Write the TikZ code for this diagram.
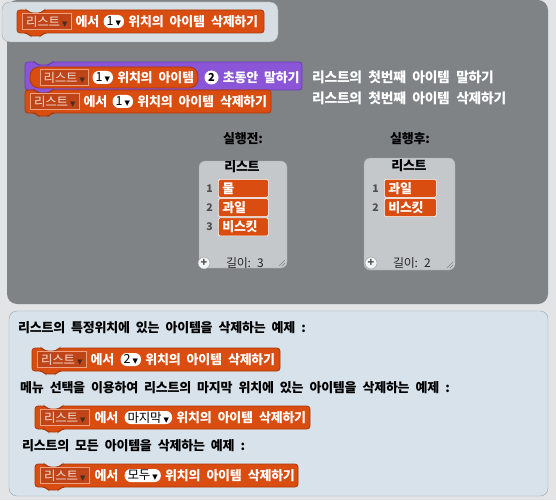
\documentclass[tikz,border=0pt]{standalone}
\usepackage{fontspec}
\usepackage{xcolor}
\usepackage{tikz}
\usetikzlibrary{positioning}

\newfontfamily\krfont{Noto Sans CJK KR}[LetterSpace=-2,WordSpace=2.2]
\newfontfamily\symfont{DejaVu Sans}

\definecolor{pagebg}{HTML}{E3E4E5}
\definecolor{stagegray}{HTML}{7F8386}
\definecolor{headfill}{HTML}{D6DEE4}
\definecolor{headedge}{HTML}{A3ACB3}
\definecolor{notefill}{HTML}{D7E2EA}
\definecolor{noteedge}{HTML}{9AA5AD}
\definecolor{listorange}{HTML}{D94D11}
\definecolor{listedge}{HTML}{A93A0B}
\definecolor{fieldfill}{HTML}{BF4519}
\definecolor{fieldedge}{HTML}{EFA07E}
\definecolor{fieldtext}{HTML}{F6DCD0}
\definecolor{trimark}{HTML}{4A2C1E}
\definecolor{looksviolet}{HTML}{8A55D7}
\definecolor{looksedge}{HTML}{6B3EB8}
\definecolor{monfill}{HTML}{C4C8CB}
\definecolor{monedge}{HTML}{A5A9AC}
\definecolor{numgray}{HTML}{4E4E4E}

\newcommand{\dropmark}[1][trimark]{\hspace{2pt}{\symfont\fontsize{7}{7}\selectfont\textcolor{#1}{▼}}}

\newcommand{\stackblock}[5][listblock]{%
  \begin{scope}[shift={(#2,#3)}]
    \filldraw[#1,rounded corners=3] (0,0) -- (10,0) -- (13,3) -- (24,3) -- (27,0) -- (#4,0)
      -- (#4,#5) -- (27,#5) -- (24,#5+3) -- (13,#5+3) -- (10,#5) -- (0,#5) -- cycle;
  \end{scope}}

\tikzset{
  listblock/.style={fill=listorange, draw=listedge, line width=0.8pt},
  looksblock/.style={fill=looksviolet, draw=looksedge, line width=0.8pt},
  blocktext/.style={text=white, font=\krfont\bfseries\fontsize{13}{14}\selectfont, inner sep=0pt},
  sidetext/.style={text=white, font=\krfont\bfseries\fontsize{13.8}{14}\selectfont, inner sep=0pt, anchor=west},
  notetext/.style={text=black, font=\krfont\bfseries\fontsize{13}{14}\selectfont, inner sep=0pt, anchor=west},
  listfield/.style={draw=fieldedge, fill=fieldfill, text=fieldtext, font=\krfont\fontsize{12.5}{13}\selectfont,
    minimum width=49pt, minimum height=16pt, inner xsep=2pt, inner ysep=0pt, anchor=west},
  numfield/.style={fill=white, rounded corners=6pt, minimum height=13pt, inner xsep=3pt, inner ysep=0pt,
    text=black, font=\krfont\fontsize{12.5}{13}\selectfont},
  monitor/.style={fill=monfill, draw=monedge, rounded corners=6},
  itembox/.style={fill=listorange, draw=white, line width=0.6pt, rounded corners=1.5pt, minimum height=18pt,
    text width=42pt, inner xsep=4pt, inner ysep=0pt, align=left, text=white,
    font=\krfont\bfseries\fontsize{13}{14}\selectfont, anchor=north west},
  itemnum/.style={text=numgray, font=\krfont\bfseries\fontsize{10.5}{11}\selectfont, inner sep=0pt},
  addbtn/.style={circle, fill=white!80!monfill, draw=numgray!60, minimum size=12pt, inner sep=0pt,
    text=numgray, font=\krfont\bfseries\fontsize{11}{11}\selectfont},
  lentext/.style={text=black!85, font=\krfont\fontsize{12}{12}\selectfont, inner sep=0pt},
  grip/.style={draw=numgray!70, line width=0.5pt}
}

\begin{document}
\begin{tikzpicture}[x=1pt,y=-1pt]
\useasboundingbox (0,0) rectangle (556,500);
\fill[pagebg] (0,0) rectangle (556,500);
\fill[stagegray, rounded corners=10] (7,0) rectangle (548,304);

\filldraw[fill=headfill, draw=headedge, rounded corners=8] (2,2) rectangle (278,42);
\stackblock{17}{10}{247}{23}
\node[listfield] (hdrlist) at (22,21.5) {리스트\dropmark};
\node[blocktext, right=4pt of hdrlist] (hdrfrom) {에서};
\node[numfield, right=4pt of hdrfrom] (hdrpos) {1\dropmark[black]};
\node[blocktext, right=4pt of hdrpos] (hdrcmd) {위치의 아이템 삭제하기};

\stackblock[looksblock]{25}{62}{277}{28}
\filldraw[listblock, rounded corners=9] (30,67) rectangle (198,88);
\node[listfield, minimum width=48pt] (saylist) at (40,77.5) {리스트\dropmark};
\node[numfield, right=4pt of saylist] (saypos) {1\dropmark[black]};
\node[blocktext, right=4pt of saypos] (sayitem) {위치의 아이템};
\node[circle, fill=white, minimum size=14pt, inner sep=0pt, font=\krfont\bfseries\fontsize{11}{11}\selectfont] (saysecs) at (211.5,77.5) {2};
\node[blocktext, right=4pt of saysecs] (saycmd) {초동안 말하기};

\stackblock{25}{90}{246}{23}
\node[listfield] (dellist) at (30,101.5) {리스트\dropmark};
\node[blocktext, right=4pt of dellist] (delfrom) {에서};
\node[numfield, right=5pt of delfrom] (delpos) {1\dropmark[black]};
\node[blocktext, right=4pt of delpos] (delcmd) {위치의 아이템 삭제하기};

\node[sidetext] (sayhint) at (312,77) {리스트의 첫번째 아이템 말하기};
\node[sidetext] (delhint) at (312,98) {리스트의 첫번째 아이템 삭제하기};

\node[notetext, anchor=center] (beforelabel) at (243,139) {실행전:};
\node[notetext, anchor=center] (afterlabel) at (410,139) {실행후:};

\filldraw[monitor] (199,161) rectangle (287,268);
\node[notetext, anchor=center] (beforetitle) at (242,167) {리스트};
\foreach \i/\name in {1/물,2/과일,3/비스킷} {
  \node[itembox] (before\i) at (218,{179+(\i-1)*19.3}) {\name};
  \node[itemnum, left=5pt of before\i] (beforenum\i) {\i};
}
\node[addbtn] (beforeadd) at (204,263) {+};
\node[lentext] (beforelen) at (245,263) {길이: 3};
\draw[grip] (279,266) -- (285,260) (282,266) -- (285,263);

\filldraw[monitor] (364,158) rectangle (455,270);
\node[notetext, anchor=center] (aftertitle) at (409,166) {리스트};
\foreach \i/\name in {1/과일,2/비스킷} {
  \node[itembox, text width=44pt] (after\i) at (384,{179+(\i-1)*19.3}) {\name};
  \node[itemnum, left=5pt of after\i] (afternum\i) {\i};
}
\node[addbtn] (afteradd) at (371,263) {+};
\node[lentext] (afterlen) at (412,263) {길이: 2};
\draw[grip] (447,268) -- (453,262) (450,268) -- (453,265);

\filldraw[fill=notefill, draw=noteedge, rounded corners=8] (9,311) rectangle (548,496);

\node[notetext] (noteone) at (18,328) {리스트의 특정위치에 있는 아이템을 삭제하는 예제 :};
\stackblock{32}{348}{248}{23}
\node[listfield] (onelist) at (37,359.5) {리스트\dropmark};
\node[blocktext, right=4pt of onelist] (onefrom) {에서};
\node[numfield, right=6pt of onefrom] (onepos) {2\dropmark[black]};
\node[blocktext, right=4pt of onepos] (onecmd) {위치의 아이템 삭제하기};

\node[notetext] (notetwo) at (20,388) {메뉴 선택을 이용하여 리스트의 마지막 위치에 있는 아이템을 삭제하는 예제 :};
\stackblock{35}{406}{275}{23}
\node[listfield] (twolist) at (40,417.5) {리스트\dropmark};
\node[blocktext, right=5pt of twolist] (twofrom) {에서};
\node[numfield, right=6pt of twofrom] (twopos) {마지막\dropmark[black]};
\node[blocktext, right=4pt of twopos] (twocmd) {위치의 아이템 삭제하기};

\node[notetext] (notethree) at (22,446) {리스트의 모든 아이템을 삭제하는 예제 :};
\stackblock{35}{464}{263}{23}
\node[listfield] (threelist) at (40,475.5) {리스트\dropmark};
\node[blocktext, right=5pt of threelist] (threefrom) {에서};
\node[numfield, right=6pt of threefrom] (threepos) {모두\dropmark[black]};
\node[blocktext, right=4pt of threepos] (threecmd) {위치의 아이템 삭제하기};
\end{tikzpicture}
\end{document}
